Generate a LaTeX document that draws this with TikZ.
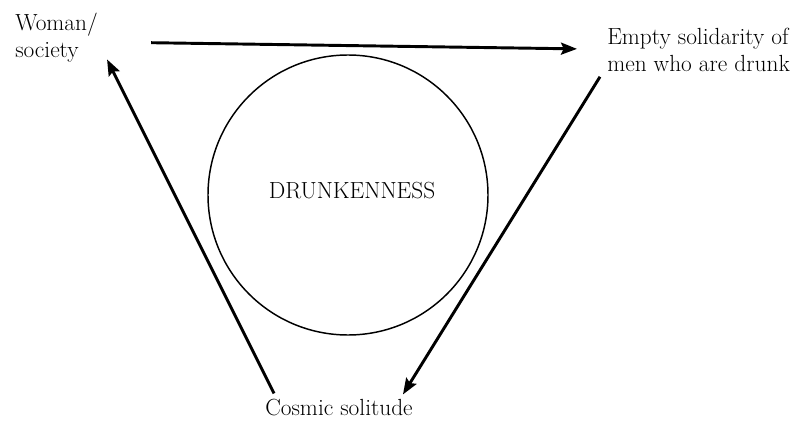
\documentclass[tikz,border=0pt]{standalone}
\usepackage{tikz}
\usetikzlibrary{arrows.meta}
\tikzset{
  % --- labels and the circle -------------------------------------------
  lab/.style  ={font=\fontsize{17.5}{20}\selectfont, text=black, inner sep=0pt, align=left},
  ring/.style ={circle, draw, line width=1.1pt, minimum size=210pt, inner sep=0pt},
  % --- arrows ----------------------------------------------------------
  arrow/.style={-{Stealth[length=12pt,width=9pt,inset=2pt]}, line width=2.2pt},
}

\begin{document}
\begin{tikzpicture}[x=0.75pt,y=-0.75pt]
  \useasboundingbox (0,0) rectangle (794,421);

  % ============================= the three states =============================
  \node[lab, anchor=north west] (woman) at (15,13)  {Woman/\\society};
  \node[lab, anchor=north west] (empty) at (607,28) {Empty solidarity of\\men who are drunk};
  \node[lab, anchor=base]       (cosmic) at (339,415) {Cosmic solitude};

  % ============================= centre =============================
  \node[ring] (ring) at (348,195) {};
  \node[lab, anchor=base] (drunk) at (352,198) {DRUNKENNESS};

  % ============================= edges =============================
  \draw[arrow] ([shift={(53,5)}]woman.east) -- ([shift={(-30,-1)}]empty.west);
  \draw[arrow] ([shift={(-7,5)}]empty.south west) -- ([shift={(-10,-4)}]cosmic.north east);
  \draw[arrow] ([shift={(9,-5)}]cosmic.north west) -- ([shift={(9,-3)}]woman.south east);

\end{tikzpicture}
\end{document}
